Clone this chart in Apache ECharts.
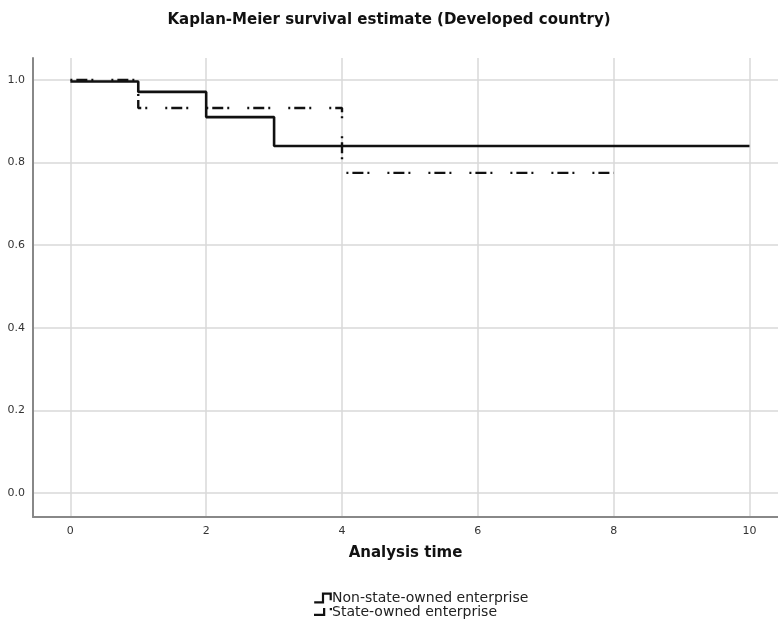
<!DOCTYPE html>
<html>
<head>
<meta charset="utf-8">
<script src="https://cdn.jsdelivr.net/npm/echarts@6/dist/echarts.min.js"></script>
<style>
  html, body { margin: 0; padding: 0; background: #fff; }
  #main { width: 778px; height: 619px; }
</style>
</head>
<body>
<div id="main"></div>
<script>
// survival curves (time, survival probability)
var nonStateTimes = [0, 1, 2, 3, 10];
var nonStateSurv = [0.996, 0.971, 0.910, 0.840, 0.840];
var stateTimes = [0, 1, 4, 8];
var stateSurv = [1.0, 0.932, 0.775, 0.775];

var xTicks = [0, 2, 4, 6, 8, 10];
var yTicks = [0, 0.2, 0.4, 0.6, 0.8, 1.0];

var seriesNames = ['Non-state-owned enterprise', 'State-owned enterprise'];

function pairs(xs, ys) {
    return xs.map(function (x, i) { return [x, ys[i]]; });
}

var myChart = echarts.init(document.getElementById('main'));

var font = 'DejaVu Sans';

var option = {
    backgroundColor: '#fff',
    animation: false,
    title: {
        text: 'Kaplan-Meier survival estimate (Developed country)',
        left: 'center',
        top: 8,
        textStyle: { fontFamily: font, fontSize: 15, fontWeight: 'bold', color: '#111' }
    },
    legend: {
        orient: 'vertical',
        left: 314,
        top: 591,
        padding: 0,
        itemGap: 0,
        itemWidth: 18,
        itemHeight: 11,
        height: 40,
        textStyle: { fontFamily: font, fontSize: 14, color: '#222', padding: [0, 0, 0, -5], lineHeight: 14 },
        data: [
            { name: seriesNames[0], icon: 'path://M0,8 H7 V0 H16 V7 H14 V2 H9 V10 H0 Z' },
            { name: seriesNames[1], icon: 'path://M0,8 H8 V3 H10 V10 H0 Z M14,3 H16 V5 H14 Z' }
        ]
    },
    grid: { left: 33, right: 0, top: 58, bottom: 102 },
    xAxis: {
        type: 'value',
        min: -0.55,
        max: 10.42,
        name: 'Analysis time',
        nameLocation: 'middle',
        nameGap: 29,
        nameTextStyle: { fontFamily: font, fontSize: 15, fontWeight: 'bold', color: '#111' },
        axisLine: { onZero: false, lineStyle: { color: '#888', width: 2 } },
        axisTick: { show: false, customValues: xTicks },
        axisLabel: { customValues: xTicks, fontFamily: font, fontSize: 11, color: '#333', margin: 9 },
        splitLine: { show: true, lineStyle: { color: '#d8d8d8', width: 1.5 } }
    },
    yAxis: {
        type: 'value',
        min: -0.058,
        max: 1.053,
        axisLine: { show: true, onZero: false, lineStyle: { color: '#888', width: 2 } },
        axisTick: { show: false, customValues: yTicks },
        axisLabel: {
            customValues: yTicks, fontFamily: font, fontSize: 11, color: '#333', margin: 8,
            formatter: function (v) { return v.toFixed(1); }
        },
        splitLine: { show: true, lineStyle: { color: '#d8d8d8', width: 1.5 } }
    },
    series: [
        {
            name: seriesNames[0],
            type: 'line',
            step: 'end',
            data: pairs(nonStateTimes, nonStateSurv),
            showSymbol: false,
            color: '#111',
            lineStyle: { color: '#111', width: 2.6 },
            z: 3
        },
        {
            name: seriesNames[1],
            type: 'line',
            step: 'end',
            data: pairs(stateTimes, stateSurv),
            showSymbol: false,
            color: '#111',
            lineStyle: { color: '#111', width: 2.4, type: [2, 4, 11, 4, 2, 18] },
            z: 4
        }
    ]
};

myChart.setOption(option);
</script>
</body>
</html>
